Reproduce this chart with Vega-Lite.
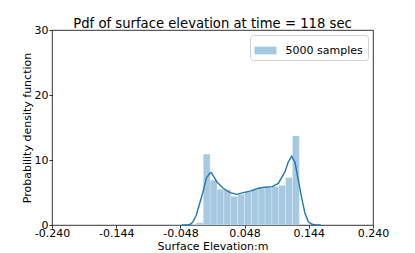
{
  "$schema": "https://vega.github.io/schema/vega-lite/v6.json",
  "width": 321,
  "height": 195,
  "autosize": {"type": "none"},
  "padding": {"left": 52, "top": 30, "right": 42, "bottom": 28},
  "background": "white",
  "config": {
    "font": "DejaVu Sans",
    "view": {"stroke": "#000000", "strokeWidth": 0.8},
    "axis": {
      "grid": false,
      "domain": false,
      "tickColor": "#000000",
      "tickWidth": 0.8,
      "tickSize": 3,
      "labelFontSize": 11,
      "labelColor": "#000000",
      "labelFont": "DejaVu Sans",
      "titleFont": "DejaVu Sans",
      "titleFontSize": 11,
      "titleFontWeight": "normal",
      "titleColor": "#000000"
    },
    "legend": {
      "orient": "top-right",
      "offset": 5,
      "fillColor": "white",
      "strokeColor": "#d0d0d0",
      "cornerRadius": 3,
      "padding": 4.5,
      "symbolType": "M-1,-0.35H1V0.35H-1Z",
      "symbolSize": 484,
      "symbolStrokeWidth": 0,
      "symbolOpacity": 1,
      "labelFontSize": 11,
      "labelFont": "DejaVu Sans",
      "labelColor": "#000000",
      "labelOffset": 9
    }
  },
  "title": {
    "text": "Pdf of surface elevation at time = 118 sec",
    "fontSize": 13.2,
    "fontWeight": "normal",
    "font": "DejaVu Sans",
    "color": "#000000",
    "anchor": "middle",
    "baseline": "alphabetic",
    "offset": -17
  },
  "datasets": {
    "hist": [
      {"x0": -0.06505, "x1": -0.05479, "density": 0.12, "label": "5000 samples"},
      {"x0": -0.05479, "x1": -0.04453, "density": 0.12, "label": "5000 samples"},
      {"x0": -0.04453, "x1": -0.03428, "density": 0.12, "label": "5000 samples"},
      {"x0": -0.03428, "x1": -0.02402, "density": 0.12, "label": "5000 samples"},
      {"x0": -0.02402, "x1": -0.01376, "density": 0.36, "label": "5000 samples"},
      {"x0": -0.01376, "x1": -0.0035, "density": 10.9, "label": "5000 samples"},
      {"x0": -0.0035, "x1": 0.00676, "density": 6.9, "label": "5000 samples"},
      {"x0": 0.00676, "x1": 0.01701, "density": 5.5, "label": "5000 samples"},
      {"x0": 0.01701, "x1": 0.02727, "density": 5.4, "label": "5000 samples"},
      {"x0": 0.02727, "x1": 0.03753, "density": 4.4, "label": "5000 samples"},
      {"x0": 0.03753, "x1": 0.04779, "density": 4.7, "label": "5000 samples"},
      {"x0": 0.04779, "x1": 0.05805, "density": 5.1, "label": "5000 samples"},
      {"x0": 0.05805, "x1": 0.0683, "density": 5.4, "label": "5000 samples"},
      {"x0": 0.0683, "x1": 0.07856, "density": 5.6, "label": "5000 samples"},
      {"x0": 0.07856, "x1": 0.08882, "density": 5.8, "label": "5000 samples"},
      {"x0": 0.08882, "x1": 0.09908, "density": 5.9, "label": "5000 samples"},
      {"x0": 0.09908, "x1": 0.10934, "density": 6.1, "label": "5000 samples"},
      {"x0": 0.10934, "x1": 0.11959, "density": 7.3, "label": "5000 samples"},
      {"x0": 0.11959, "x1": 0.12985, "density": 13.7, "label": "5000 samples"}
    ],
    "kde": [
      {"x": -0.046, "y": 0},
      {"x": -0.0366, "y": 0.02},
      {"x": -0.0325, "y": 0.15},
      {"x": -0.0292, "y": 0.5},
      {"x": -0.0242, "y": 1.54},
      {"x": -0.0191, "y": 3.34},
      {"x": -0.0142, "y": 5.1},
      {"x": -0.0093, "y": 7.2},
      {"x": -0.0042, "y": 7.95},
      {"x": -0.0018, "y": 8.05},
      {"x": 0.0033, "y": 7.2},
      {"x": 0.0063, "y": 6.66},
      {"x": 0.0161, "y": 5.65},
      {"x": 0.0262, "y": 4.97},
      {"x": 0.0362, "y": 4.72},
      {"x": 0.0461, "y": 4.97},
      {"x": 0.0561, "y": 5.2},
      {"x": 0.0685, "y": 5.65},
      {"x": 0.0785, "y": 5.8},
      {"x": 0.0894, "y": 5.9},
      {"x": 0.0984, "y": 6.4},
      {"x": 0.1084, "y": 8.2},
      {"x": 0.1133, "y": 9.7},
      {"x": 0.1184, "y": 10.6},
      {"x": 0.1234, "y": 9.6},
      {"x": 0.1283, "y": 6.9},
      {"x": 0.1334, "y": 4.15},
      {"x": 0.1383, "y": 1.8},
      {"x": 0.1433, "y": 0.5},
      {"x": 0.1488, "y": 0.12},
      {"x": 0.1548, "y": 0.01},
      {"x": 0.162, "y": 0}
    ]
  },
  "layer": [
    {
      "data": {"name": "hist"},
      "mark": {"type": "bar", "stroke": "white", "strokeWidth": 0.4, "strokeOpacity": 0.6},
      "encoding": {
        "x": {
          "field": "x0",
          "type": "quantitative",
          "scale": {"domain": [-0.24, 0.24], "nice": false, "zero": false},
          "axis": {
            "title": "Surface Elevation:m",
            "values": [-0.24, -0.144, -0.048, 0.048, 0.144, 0.24],
            "labelExpr": "replace(format(datum.value, '.3f'), '\u2212', '-')",
            "labelFlush": false,
            "labelOverlap": false,
            "labelPadding": -1,
            "titlePadding": 2
          }
        },
        "x2": {"field": "x1"},
        "y": {
          "field": "density",
          "type": "quantitative",
          "scale": {"domain": [0, 30], "nice": false},
          "axis": {
            "title": "Probability density function",
            "values": [0, 5, 10, 15, 20, 25, 30],
            "labelFlush": false,
            "labelOverlap": false,
            "labelPadding": 1,
            "titlePadding": 2
          }
        },
        "y2": {"datum": 0},
        "color": {
          "field": "label",
          "type": "nominal",
          "scale": {"range": ["#a5c9e1"]},
          "legend": {"title": null}
        }
      }
    },
    {
      "data": {"name": "kde"},
      "mark": {"type": "line", "color": "#1f77b4", "strokeWidth": 1.4},
      "encoding": {
        "x": {"field": "x", "type": "quantitative", "axis": {"title": "Surface Elevation:m"}},
        "y": {"field": "y", "type": "quantitative", "axis": {"title": "Probability density function"}}
      }
    }
  ]
}
